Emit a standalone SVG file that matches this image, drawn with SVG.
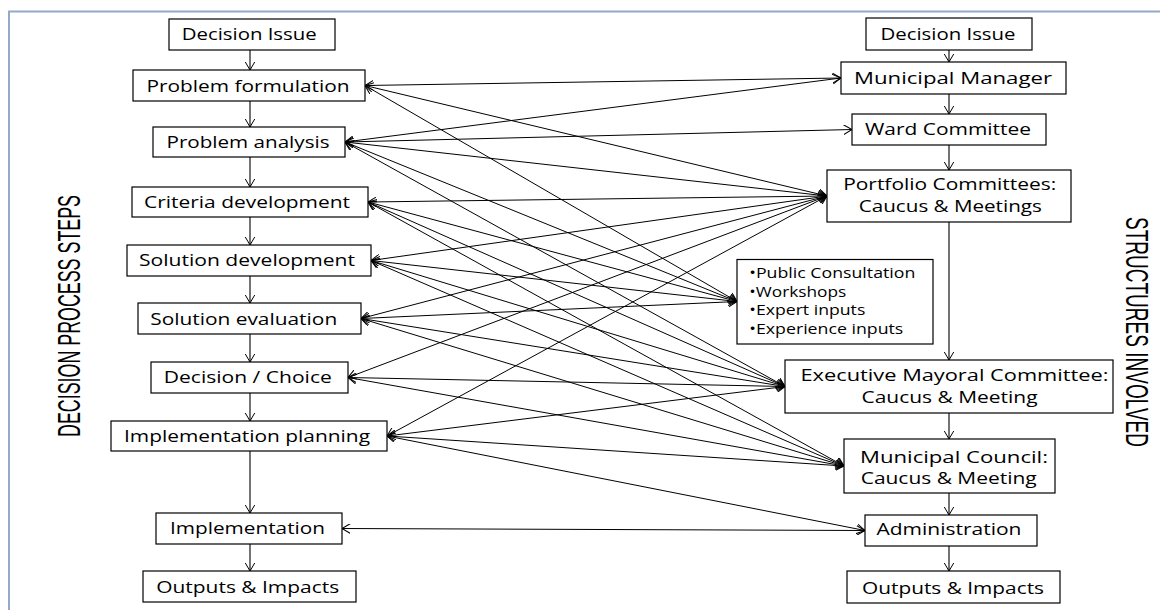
<svg xmlns="http://www.w3.org/2000/svg" width="1160" height="610" viewBox="0 0 1160 610">
  <defs>
    <marker id="arr" viewBox="0 0 9 10" refX="8.5" refY="5" markerWidth="9" markerHeight="10" markerUnits="userSpaceOnUse" orient="auto-start-reverse">
      <path d="M0,0 L8.5,5 L0,10" fill="none" stroke="#000" stroke-width="1"/>
    </marker>
    <style>
      .box { fill: #fff; stroke: #000; stroke-width: 1.2; }
      .lbl { font-family: "Open Sans", "Liberation Sans", sans-serif; font-size: 17px; fill: #000; text-anchor: middle; }
      .lbl2 { font-family: "Open Sans", "Liberation Sans", sans-serif; font-size: 16px; fill: #000; text-anchor: middle; }
      .bul { font-family: "Open Sans", "Liberation Sans", sans-serif; font-size: 14px; fill: #000; }
      .side { font-family: "Liberation Sans", "DejaVu Sans", sans-serif; font-size: 31px; fill: #000; text-anchor: middle; }
      .flow line { stroke: #000; stroke-width: 1.1; fill: none; marker-end: url(#arr); }
      .links line { stroke: #000; stroke-width: 1; fill: none; marker-start: url(#arr); marker-end: url(#arr); }
    </style>
  </defs>

  <rect width="1160" height="610" fill="#fff"/>
  <!-- outer frame -->
  <rect x="9" y="11.5" width="1170" height="620" fill="none" stroke="#94a8c8" stroke-width="2"/>

  <!-- side captions -->
  <text class="side" transform="translate(80,316) rotate(-90)" textLength="242" lengthAdjust="spacingAndGlyphs">DECISION PROCESS STEPS</text>
  <text class="side" transform="translate(1126,332) rotate(90)" textLength="230" lengthAdjust="spacingAndGlyphs">STRUCTURES INVOLVED</text>

  <!-- cross links between process steps and structures -->
  <g id="connectors">
    <g class="links">
      <line x1="365" y1="85.5" x2="841" y2="78"/>
      <line x1="365" y1="85.5" x2="827" y2="196"/>
      <line x1="365" y1="85.5" x2="737" y2="301.5"/>

      <line x1="345" y1="142" x2="841" y2="78"/>
      <line x1="345" y1="142" x2="852" y2="129.5"/>
      <line x1="345" y1="142" x2="827" y2="196"/>
      <line x1="345" y1="142" x2="737" y2="301.5"/>
      <line x1="345" y1="142" x2="785" y2="386.5"/>

      <line x1="368" y1="202" x2="827" y2="196"/>
      <line x1="368" y1="202" x2="737" y2="301.5"/>
      <line x1="368" y1="202" x2="785" y2="386.5"/>
      <line x1="368" y1="202" x2="844" y2="466"/>

      <line x1="371" y1="260.5" x2="827" y2="196"/>
      <line x1="371" y1="260.5" x2="737" y2="301.5"/>
      <line x1="371" y1="260.5" x2="785" y2="386.5"/>
      <line x1="371" y1="260.5" x2="844" y2="466"/>

      <line x1="361" y1="318.5" x2="827" y2="196"/>
      <line x1="361" y1="318.5" x2="737" y2="301.5"/>
      <line x1="361" y1="318.5" x2="785" y2="386.5"/>
      <line x1="361" y1="318.5" x2="844" y2="466"/>

      <line x1="348" y1="377.5" x2="827" y2="196"/>
      <line x1="348" y1="377.5" x2="785" y2="386.5"/>
      <line x1="348" y1="377.5" x2="844" y2="466"/>

      <line x1="387" y1="436" x2="827" y2="196"/>
      <line x1="387" y1="436" x2="785" y2="386.5"/>
      <line x1="387" y1="436" x2="844" y2="466"/>
      <line x1="387" y1="436" x2="865" y2="530.5"/>

      <line x1="342" y1="528.5" x2="865" y2="530.5"/>
    </g>

    <!-- step-to-step flow, left column -->
    <g class="flow">
      <line x1="250" y1="50" x2="250" y2="70"/>
      <line x1="250" y1="101" x2="250" y2="127"/>
      <line x1="250" y1="157" x2="250" y2="187"/>
      <line x1="250" y1="217" x2="250" y2="245"/>
      <line x1="250" y1="276" x2="250" y2="303"/>
      <line x1="250" y1="334" x2="250" y2="362"/>
      <line x1="250" y1="393" x2="250" y2="421"/>
      <line x1="250" y1="451" x2="250" y2="513"/>
      <line x1="250" y1="544" x2="250" y2="571"/>
    </g>

    <!-- structure flow, right column -->
    <g class="flow">
      <line x1="949" y1="50" x2="949" y2="62"/>
      <line x1="949" y1="94" x2="949" y2="114"/>
      <line x1="949" y1="145" x2="949" y2="170"/>
      <line x1="949" y1="222" x2="949" y2="360"/>
      <line x1="949" y1="413" x2="949" y2="439"/>
      <line x1="949" y1="493" x2="949" y2="515"/>
      <line x1="949" y1="546" x2="949" y2="571"/>
    </g>
  </g>

  <!-- decision process steps -->
  <g id="step-issue">
    <rect class="box" x="169" y="19" width="166" height="31"/>
    <text class="lbl" x="249.2" y="40" textLength="135" lengthAdjust="spacingAndGlyphs">Decision Issue</text>
  </g>
  <g id="step-formulation">
    <rect class="box" x="133" y="70" width="232" height="31"/>
    <text class="lbl" x="248" y="91.5" textLength="203" lengthAdjust="spacingAndGlyphs">Problem formulation</text>
  </g>
  <g id="step-analysis">
    <rect class="box" x="153" y="127" width="192" height="30"/>
    <text class="lbl" x="248" y="147.5" textLength="163" lengthAdjust="spacingAndGlyphs">Problem analysis</text>
  </g>
  <g id="step-criteria">
    <rect class="box" x="132" y="187" width="236" height="30"/>
    <text class="lbl" x="247" y="207.5" textLength="206" lengthAdjust="spacingAndGlyphs">Criteria development</text>
  </g>
  <g id="step-solution-dev">
    <rect class="box" x="127" y="245" width="244" height="31"/>
    <text class="lbl" x="247" y="266" textLength="216" lengthAdjust="spacingAndGlyphs">Solution development</text>
  </g>
  <g id="step-solution-eval">
    <rect class="box" x="138" y="303" width="223" height="31"/>
    <text class="lbl" x="243.7" y="324.5" textLength="187" lengthAdjust="spacingAndGlyphs">Solution evaluation</text>
  </g>
  <g id="step-choice">
    <rect class="box" x="151" y="362" width="197" height="31"/>
    <text class="lbl" x="247.8" y="383" textLength="168" lengthAdjust="spacingAndGlyphs">Decision / Choice</text>
  </g>
  <g id="step-impl-planning">
    <rect class="box" x="111" y="421" width="276" height="30"/>
    <text class="lbl" x="247" y="442" textLength="246" lengthAdjust="spacingAndGlyphs">Implementation planning</text>
  </g>
  <g id="step-implementation">
    <rect class="box" x="156" y="513" width="186" height="31"/>
    <text class="lbl" x="247.5" y="534" textLength="155" lengthAdjust="spacingAndGlyphs">Implementation</text>
  </g>
  <g id="step-outputs">
    <rect class="box" x="143" y="571" width="213" height="31"/>
    <text class="lbl" x="247.7" y="593" textLength="183" lengthAdjust="spacingAndGlyphs">Outputs &amp; Impacts</text>
  </g>

  <!-- structures involved -->
  <g id="struct-issue">
    <rect class="box" x="866" y="18" width="166" height="32"/>
    <text class="lbl" x="948" y="40" textLength="135" lengthAdjust="spacingAndGlyphs">Decision Issue</text>
  </g>
  <g id="struct-manager">
    <rect class="box" x="841" y="62" width="225" height="32"/>
    <text class="lbl" x="953" y="84.3" textLength="198" lengthAdjust="spacingAndGlyphs">Municipal Manager</text>
  </g>
  <g id="struct-ward">
    <rect class="box" x="852" y="114" width="194" height="31"/>
    <text class="lbl" x="948" y="135" textLength="166" lengthAdjust="spacingAndGlyphs">Ward Committee</text>
  </g>
  <g id="struct-portfolio">
    <rect class="box" x="827" y="170" width="244" height="52"/>
    <text class="lbl2" x="949.7" y="190" textLength="213" lengthAdjust="spacingAndGlyphs">Portfolio Committees:</text>
    <text class="lbl2" x="950.3" y="211.7" textLength="183" lengthAdjust="spacingAndGlyphs">Caucus &amp; Meetings</text>
  </g>
  <g id="struct-inputs">
    <rect class="box" x="737" y="259.5" width="196" height="84.5"/>
    <text class="bul" x="749.3" y="278.3" textLength="166" lengthAdjust="spacingAndGlyphs">•Public Consultation</text>
    <text class="bul" x="749.3" y="296.7" textLength="97" lengthAdjust="spacingAndGlyphs">•Workshops</text>
    <text class="bul" x="749.3" y="315" textLength="116" lengthAdjust="spacingAndGlyphs">•Expert inputs</text>
    <text class="bul" x="749.3" y="334" textLength="154" lengthAdjust="spacingAndGlyphs">•Experience inputs</text>
  </g>
  <g id="struct-mayoral">
    <rect class="box" x="785" y="360" width="328" height="53"/>
    <text class="lbl2" x="954.5" y="381" textLength="308" lengthAdjust="spacingAndGlyphs">Executive Mayoral Committee:</text>
    <text class="lbl2" x="949.5" y="402.7" textLength="176" lengthAdjust="spacingAndGlyphs">Caucus &amp; Meeting</text>
  </g>
  <g id="struct-council">
    <rect class="box" x="844" y="439" width="211" height="54"/>
    <text class="lbl2" x="954" y="462.5" textLength="188" lengthAdjust="spacingAndGlyphs">Municipal Council:</text>
    <text class="lbl2" x="948.7" y="483.5" textLength="176" lengthAdjust="spacingAndGlyphs">Caucus &amp; Meeting</text>
  </g>
  <g id="struct-admin">
    <rect class="box" x="865" y="515" width="172" height="31"/>
    <text class="lbl" x="949" y="535" textLength="145" lengthAdjust="spacingAndGlyphs">Administration</text>
  </g>
  <g id="struct-outputs">
    <rect class="box" x="847" y="571" width="213" height="32"/>
    <text class="lbl" x="953" y="594" textLength="182" lengthAdjust="spacingAndGlyphs">Outputs &amp; Impacts</text>
  </g>
</svg>
